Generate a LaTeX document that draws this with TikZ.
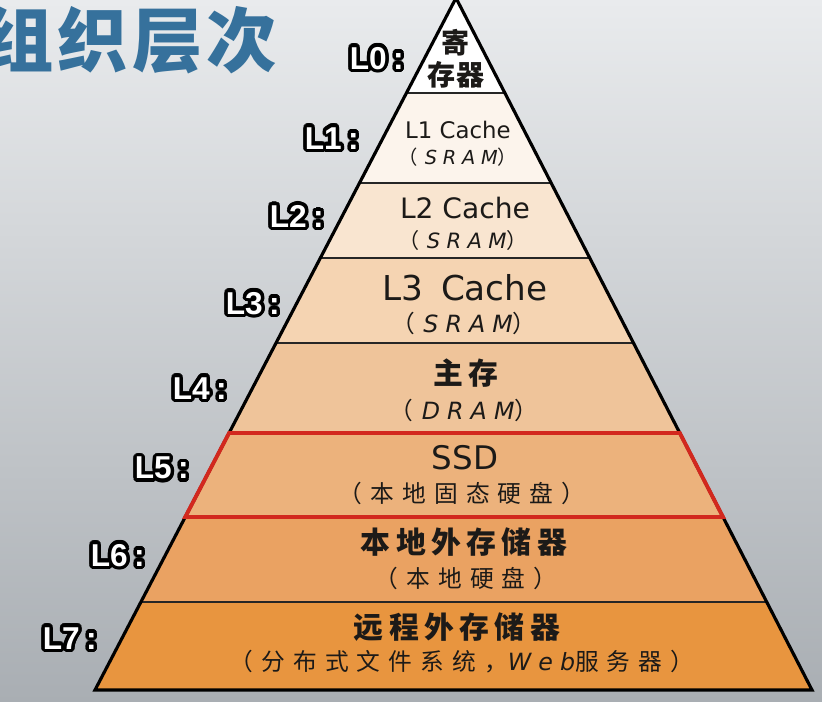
\documentclass[tikz,border=0pt]{standalone}
\usepackage{fontspec}
\usepackage{contour}
\setmainfont{DejaVu Sans}
\newfontfamily\zh{Noto Sans CJK SC}
\newfontfamily\zhmid[LetterSpace=18]{Noto Sans CJK SC}
\newfontfamily\zhsp[LetterSpace=34]{Noto Sans CJK SC}
\newfontfamily\zhtitle[LetterSpace=6]{Noto Sans CJK SC}
\newfontfamily\lasp[LetterSpace=30]{DejaVu Sans}
\newfontfamily\lvfont{Liberation Sans}
\usetikzlibrary{calc}
\contourlength{2pt}

\definecolor{ink}{HTML}{1C1A18}
\definecolor{lvA}{HTML}{FFFFFF}
\definecolor{lvB}{HTML}{FCF4EC}
\definecolor{lvC}{HTML}{F9E5D0}
\definecolor{lvD}{HTML}{F5D4B2}
\definecolor{lvE}{HTML}{EFC49A}
\definecolor{lvF}{HTML}{ECB27C}
\definecolor{lvG}{HTML}{EAA262}
\definecolor{lvH}{HTML}{E8953F}
\definecolor{ssdred}{HTML}{D2281E}
\definecolor{titleblue}{HTML}{36719C}
\definecolor{bgtop}{HTML}{E9EBED}
\definecolor{bgbot}{HTML}{A9AEB3}

% parenthesised second line
\newcommand{\pn}[1]{{\zhsp （}#1{\zhsp ）}}
\newcommand{\pnl}[1]{{\zhsp （}\hspace{.35em}{\lasp\itshape #1}{\zhsp ）}}

\tikzset{
  sepline/.style={line width=1.1pt, draw=black!85},
  edge/.style={line width=1.8pt, draw=black, line join=miter},
  ssdbox/.style={line width=2.2pt, draw=ssdred, line join=miter},
  word/.style={text=ink, inner sep=0pt, font=\zhmid\bfseries\fontsize{17}{17}\selectfont},
  latin/.style={text=ink, inner sep=0pt},
  note/.style={text=ink, inner sep=0pt, font=\fontsize{13.5}{14}\selectfont},
  lvl/.style={text=white, inner sep=0pt, anchor=east, font=\lvfont\bfseries\fontsize{18}{18}\selectfont},
}

\begin{document}
\begin{tikzpicture}[x=0.02cm, y=-0.02cm]
  \useasboundingbox (0,0) rectangle (822,702);
  % background
  \shade[top color=bgtop, bottom color=bgbot] (0,0) rectangle (822,702);

  % title
  \node[text=titleblue, inner sep=0pt, font=\zhtitle\bfseries\fontsize{40}{40}\selectfont] (title) at (130,40) {组织层次};

  % pyramid
  \coordinate (top) at (456,-2);
  \coordinate (bl) at (95,690);
  \coordinate (br) at (812,690);
  \begin{scope}
    \clip (top) -- (bl) -- (br) -- cycle;
    \foreach \ya/\yb/\c in {-10/93/lvA, 93/183/lvB, 183/258/lvC, 258/343/lvD,
                            343/433/lvE, 433/517/lvF, 517/602/lvG, 602/700/lvH}
      \fill[\c] (0,\ya) rectangle (822,\yb);
    \foreach \yy in {93,183,258,343,602}
      \draw[sepline] (0,\yy) -- (822,\yy);
  \end{scope}
  \draw[edge] (top) -- (bl) -- (br) -- cycle;

  % SSD highlight
  \draw[ssdbox] ($(top)!0.6286!(bl)$) -- ($(top)!0.6286!(br)$)
    -- ($(top)!0.75!(br)$) -- ($(top)!0.75!(bl)$) -- cycle;

  % level texts
  \node[text=ink, inner sep=0pt, align=center, font=\zh\bfseries\fontsize{16}{18}\selectfont] (l0) at (456,59) {寄\\存器};
  \node[latin, font=\fontsize{13}{13}\selectfont] (l1a) at (458,130) {L1 Cache};
  \node[note, font=\fontsize{11}{11}\selectfont] (l1b) at (458,157) {\pnl{SRAM}};
  \node[latin, font=\fontsize{16}{16}\selectfont] (l2a) at (465,208) {L2 Cache};
  \node[note, font=\fontsize{12}{12}\selectfont] (l2b) at (463,240) {\pnl{SRAM}};
  \node[latin, font=\fontsize{19.5}{20}\selectfont] (l3a) at (465,288) {L3\hspace{.2em} Cache};
  \node[note] (l3b) at (464,323) {\pnl{SRAM}};
  \node[word] (l4a) at (466,373) {主存};
  \node[note] (l4b) at (464,410) {\pnl{DRAM}};
  \node[latin, font=\fontsize{18.5}{19}\selectfont] (l5a) at (465,458) {SSD};
  \node[note] (l5b) at (462,493) {\pn{\zhsp 本地固态硬盘}};
  \node[word] (l6a) at (464,542) {本地外存储器};
  \node[note] (l6b) at (466,578) {\pn{\zhsp 本地硬盘}};
  \node[word] (l7a) at (457,627) {远程外存储器};
  \node[note] (l7b) at (462,662) {\pn{\zhsp 分布式文件系统，{\lasp\itshape Web}服务器}};

  % level labels
  \foreach \i/\x/\y in {0/404/60, 1/359/140, 2/324/218, 3/280/305,
                        4/227/390, 5/189/470, 6/145/557, 7/97/640}
    \node[lvl] (lab\i) at (\x,\y) {\contour{black}{L\i\hspace{.2em}:}};
\end{tikzpicture}
\end{document}
